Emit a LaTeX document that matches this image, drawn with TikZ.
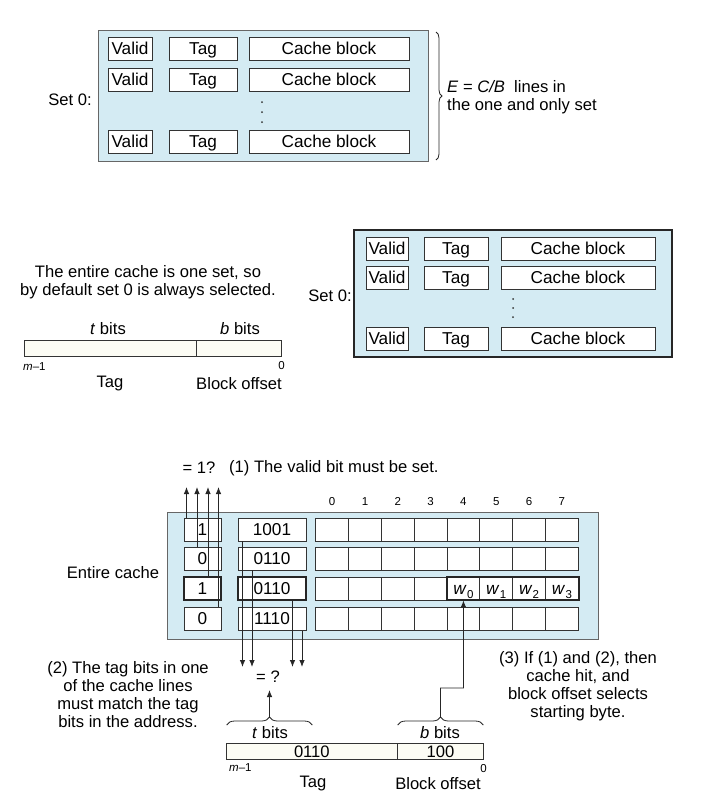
\documentclass[tikz,border=0pt]{standalone}
\usepackage{fontspec}
\setmainfont{Liberation Sans}
\usetikzlibrary{arrows.meta,decorations.pathreplacing,calc}
\definecolor{cacheblue}{RGB}{212,235,243}
\definecolor{addrfill}{RGB}{252,252,244}
\newcommand{\wsub}[1]{\textit{w}\kern0.3pt\raisebox{-0.45ex}{\fontsize{11.5}{11.5}\selectfont #1}}
\begin{document}
\begin{tikzpicture}[x=1pt,y=-1pt,
  txt/.style={font=\fontsize{16.6}{18}\selectfont, inner sep=0pt, align=center},
  small/.style={font=\fontsize{11.5}{13}\selectfont, inner sep=0pt, text height=8.5pt, text depth=0pt},
  outerbox/.style={draw=black!60, fill=cacheblue, line width=0.9pt, inner sep=0pt},
  cell/.style={draw=black!80, fill=white, line width=0.8pt, inner sep=0pt, minimum height=23pt, text height=12.3pt, text depth=1pt, font=\fontsize{17.2}{18}\selectfont},
  thickcell/.style={cell, line width=2pt, draw=black!85},
  field/.style={draw=black!80, fill=addrfill, line width=0.8pt, inner sep=0pt, minimum height=16pt, text height=12pt, text depth=0.5pt, font=\fontsize{16.6}{18}\selectfont},
  conn/.style={line width=0.8pt, draw=black!85},
  arr/.style={conn, -{Latex[length=7pt,width=5.5pt]}},
  bigbrace/.style={conn, decorate, decoration={brace, amplitude=6pt}},
  smallbrace/.style={conn, decorate, decoration={brace, amplitude=8pt}},
  vdot/.style={circle, fill=black!80, inner sep=0pt, minimum size=2pt},
]
\fill[white] (0,0) rectangle (703,809);
\useasboundingbox (0,0) rectangle (703,809);

% ================= TOP =================
\node[outerbox, minimum width=330pt, minimum height=131pt] (topset) at (263,95.5) {};
\foreach \r/\y in {1/49,2/80,3/141.5}{
  \node[cell, minimum width=44pt] (tv\r) at (130,\y) {Valid};
  \node[cell, minimum width=68pt] (tt\r) at (203,\y) {Tag};
  \node[cell, minimum width=160pt] (tc\r) at (329,\y) {Cache block};
}
\node[vdot] (td1) at (262,102) {};
\node[vdot] (td2) at (262,112) {};
\node[vdot] (td3) at (262,122) {};
\node[txt] (tsetlbl) at (70,100) {Set 0:};
\coordinate (tbr1) at (436,32);
\coordinate (tbr2) at (436,160);
\draw[bigbrace] (tbr1) -- (tbr2);
\node[txt, align=left, anchor=west] (tnote) at (447,97) {\textit{E} = \textit{C/B}\ \ lines in\\the one and only set};

% ================= MIDDLE =================
\node[outerbox, draw=black!85, line width=1.2pt, minimum width=318pt, minimum height=127pt] (midset) at (513,293.5) {};
\foreach \r/\y in {1/248.5,2/278,3/338.5}{
  \node[cell, minimum width=42pt] (mv\r) at (387,\y) {Valid};
  \node[cell, minimum width=64pt] (mt\r) at (456,\y) {Tag};
  \node[cell, minimum width=154pt] (mc\r) at (578,\y) {Cache block};
}
\node[vdot] (md1) at (513,299) {};
\node[vdot] (md2) at (513,308) {};
\node[vdot] (md3) at (513,317) {};
\node[txt] (msetlbl) at (330,296) {Set 0:};
\node[txt] (mnote) at (148,282) {The entire cache is one set, so\\by default set 0 is always selected.};
\node[field, minimum width=172pt] (mtag) at (110,348.5) {};
\node[field, minimum width=85pt] (moff) at (238.5,348.5) {};
\node[txt] (mtbits) at (108,329) {\textit{t} bits};
\node[txt] (mbbits) at (240,329) {\textit{b} bits};
\node[small, anchor=west] (mm1) at (23,366) {\textit{m}--1};
\node[small] (mzero) at (281.5,365) {0};
\node[txt] (mtaglbl) at (110,384) {Tag};
\node[txt] (mofflbl) at (239,384) {Block offset};

% ================= BOTTOM =================
\node[txt] (eq1) at (199,468) {= 1?};
\node[txt, anchor=west] (step1) at (229,468) {(1) The valid bit must be set.};
\node[outerbox, minimum width=431pt, minimum height=127pt] (botset) at (382.5,575.5) {};
\foreach \k in {0,...,7}{
  \node[small] (col\k) at ({315.7+(\k+0.5)*32.83},501) {\k};
}
\foreach \r/\y/\v/\t in {1/529.5/1/1001,2/558.5/0/0110,4/619/0/1110}{
  \node[cell, minimum width=37pt] (bv\r) at (202.5,\y) {\v};
  \node[cell, minimum width=68pt] (bt\r) at (272,\y) {\t};
  \foreach \k in {0,...,7}{
    \node[cell, minimum width=32.83pt] (c\r\k) at ({315.7+(\k+0.5)*32.83},\y) {};
  }
}
\node[thickcell, minimum width=37pt] (bv3) at (202.5,588.5) {1};
\node[thickcell, minimum width=68pt] (bt3) at (272,588.5) {0110};
\foreach \k in {0,...,3}{
  \node[cell, minimum width=32.83pt] (c3\k) at ({315.7+(\k+0.5)*32.83},588.5) {};
}
\node[cell, minimum width=32.83pt] (c34) at ({315.7+4.5*32.83},588.5) {\wsub{0}};
\node[cell, minimum width=32.83pt] (c35) at ({315.7+5.5*32.83},588.5) {\wsub{1}};
\node[cell, minimum width=32.83pt] (c36) at ({315.7+6.5*32.83},588.5) {\wsub{2}};
\node[cell, minimum width=32.83pt] (c37) at ({315.7+7.5*32.83},588.5) {\wsub{3}};
\draw[line width=2pt, draw=black!85] (c34.north west) rectangle (c37.south east);

\node[txt] (ecache) at (113,573) {Entire cache};

% valid-bit arrows
\coordinate (va1) at (186.5,487);
\coordinate (va2) at (197,487);
\coordinate (va3) at (208,487);
\coordinate (va4) at (218.5,487);
\draw[arr] (bv1.north -| va1) -- (va1);
\draw[arr] (bv2.north -| va2) -- (va2);
\draw[arr] (bv3.north -| va3) -- (va3);
\draw[arr] (bv4.north -| va4) -- (va4);

% tag arrows
\coordinate (ta1) at (242.5,667);
\coordinate (ta2) at (252,667);
\coordinate (ta3) at (292.5,667);
\coordinate (ta4) at (302,667);
\draw[arr] (bt1.south -| ta1) -- (ta1);
\draw[arr] (bt2.south -| ta2) -- (ta2);
\draw[arr] (bt3.south -| ta3) -- (ta3);
\draw[arr] (bt4.south -| ta4) -- (ta4);

\node[txt] (eq2) at (268,677) {= ?};

% address
\node[field, minimum width=171.7pt] (btag) at (311.85,751.3) {0110};
\node[field, minimum width=85.6pt] (boff) at (440.5,751.3) {100};
\coordinate (tb1) at (226.7,725);
\coordinate (tb2) at (312.3,725);
\draw[smallbrace] (tb1) -- (tb2);
\coordinate (bb1) at (397.7,725);
\coordinate (bb2) at (483.3,725);
\draw[smallbrace] (bb1) -- (bb2);
\coordinate (tbtip) at (269.5,717);
\coordinate (eqtip) at (269.5,690);
\draw[arr] (tbtip) -- (eqtip);
\coordinate (bbtip) at (440.5,717);
\coordinate (bend) at (463.4,688);
\draw[arr] (bbtip) |- (bend) -- (c34.south);

\node[txt] (btbits) at (270,733) {\textit{t} bits};
\node[txt] (bbbits) at (440,733) {\textit{b} bits};
\node[small, anchor=west] (bm1) at (229,767) {\textit{m}--1};
\node[small] (bzero) at (483.5,768) {0};
\node[txt] (btaglbl) at (313,784) {Tag};
\node[txt] (bofflbl) at (438,784) {Block offset};

\node[txt] (step2) at (128,695) {(2) The tag bits in one\\of the cache lines\\must match the tag\\bits in the address.};
\node[txt] (step3) at (578,686.5) {(3) If (1) and (2), then\\cache hit, and\\block offset selects\\starting byte.};
\end{tikzpicture}
\end{document}
